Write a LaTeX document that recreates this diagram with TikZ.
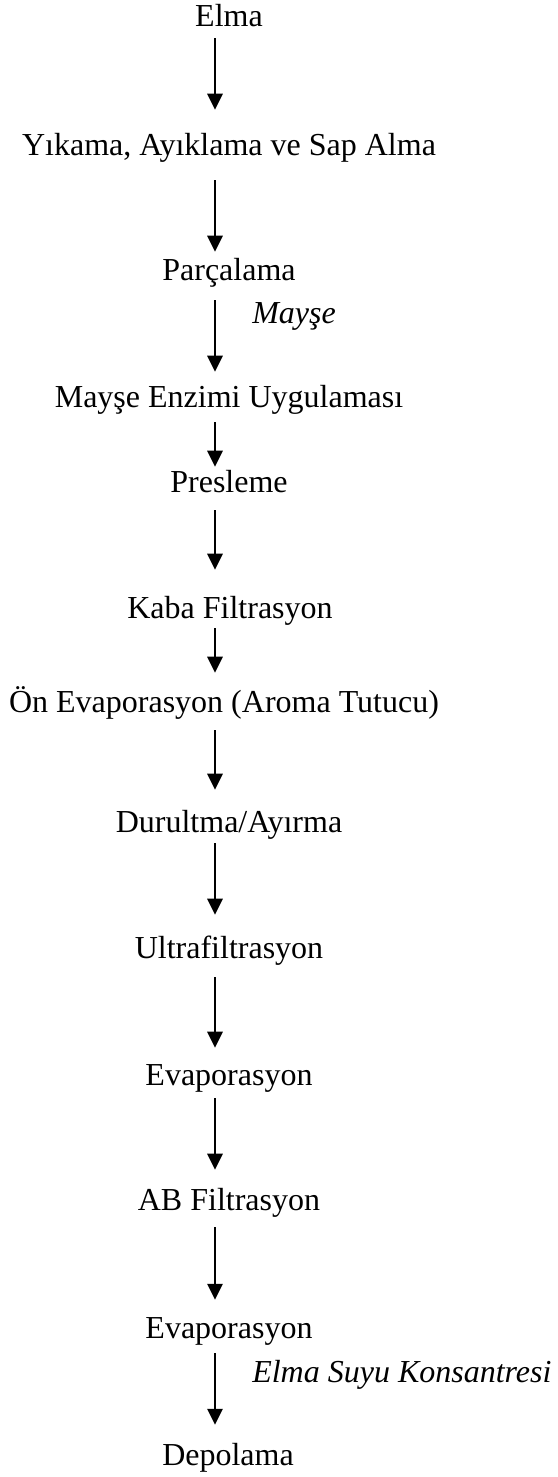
\documentclass[tikz,border=0pt]{standalone}
\usepackage{fontspec}
\setmainfont{Liberation Serif}
\usetikzlibrary{arrows.meta}

\begin{document}
\begin{tikzpicture}[x=0.75pt,y=0.75pt,yscale=-1,xscale=1,
  stage/.style={anchor=base,inner sep=0pt,text height=16.8pt,text depth=6pt,font=\fontsize{24}{28}\selectfont},
  note/.style={anchor=base west,inner sep=0pt,font=\fontsize{24}{28}\selectfont\itshape},
  flow/.style={line width=1.6pt,-{Triangle[width=11.5pt,length=12pt]}}]
\useasboundingbox (0,0) rectangle (557,1477); %set diagram size 557 x 1477

% Text Node
\draw (229,27) node [stage] (elma) {Elma};
% Text Node
\draw (229,155) node [stage] (yikama) {Yıkama, Ayıklama ve Sap Alma};
% Text Node
\draw (229,280) node [stage] (parcalama) {Parçalama};
% Text Node
\draw (229,407) node [stage] (enzim) {Mayşe Enzimi Uygulaması};
% Text Node
\draw (229,492) node [stage] (presleme) {Presleme};
% Text Node
\draw (230,618) node [stage] (kaba) {Kaba Filtrasyon};
% Text Node
\draw (224,712) node [stage] (onevap) {Ön Evaporasyon (Aroma Tutucu)};
% Text Node
\draw (229,832) node [stage] (durultma) {Durultma/Ayırma};
% Text Node
\draw (229,958) node [stage] (ultra) {Ultrafiltrasyon};
% Text Node
\draw (229,1085) node [stage] (evap) {Evaporasyon};
% Text Node
\draw (229,1210) node [stage] (abfilt) {AB Filtrasyon};
% Text Node
\draw (229,1338) node [stage] (evapson) {Evaporasyon};
% Text Node
\draw (228,1465) node [stage] (depolama) {Depolama};
% Text Node
\draw (252,323) node [note] (mayse) {Mayşe};
% Text Node
\draw (252,1382) node [note] (konsantre) {Elma Suyu Konsantresi};

% arrow axis
\coordinate (ax) at (215,0);

%Straight Lines
\draw [flow, shorten <=2.25pt, shorten >=16.95pt] (elma.south -| ax) -- (yikama.north -| ax);
%Straight Lines
\draw [flow, shorten <=12.75pt, shorten >=4.2pt] (yikama.south -| ax) -- (parcalama.north -| ax);
%Straight Lines
\draw [flow, shorten <=9pt, shorten >=9.45pt] (parcalama.south -| ax) -- (enzim.north -| ax);
%Straight Lines
\draw [flow, shorten <=5.25pt, shorten >=1.95pt] (enzim.south -| ax) -- (presleme.north -| ax);
%Straight Lines
\draw [flow, shorten <=7.5pt, shorten >=19.2pt] (presleme.south -| ax) -- (kaba.north -| ax);
%Straight Lines
\draw [flow, shorten <=1.5pt, shorten >=12.45pt] (kaba.south -| ax) -- (onevap.north -| ax);
%Straight Lines
\draw [flow, shorten <=7.5pt, shorten >=14.7pt] (onevap.south -| ax) -- (durultma.north -| ax);
%Straight Lines
\draw [flow, shorten <=2.25pt, shorten >=15.45pt] (durultma.south -| ax) -- (ultra.north -| ax);
%Straight Lines
\draw [flow, shorten <=8.25pt, shorten >=10.95pt] (ultra.south -| ax) -- (evap.north -| ax);
%Straight Lines
\draw [flow, shorten <=3.75pt, shorten >=13.2pt] (evap.south -| ax) -- (abfilt.north -| ax);
%Straight Lines
\draw [flow, shorten <=6.75pt, shorten >=11.7pt] (abfilt.south -| ax) -- (evapson.north -| ax);
%Straight Lines
\draw [flow, shorten <=5.25pt, shorten >=13.2pt] (evapson.south -| ax) -- (depolama.north -| ax);

\end{tikzpicture}
\end{document}
